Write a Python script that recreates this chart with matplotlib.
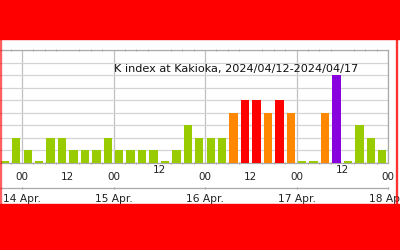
import matplotlib
matplotlib.use("Agg")
import matplotlib.pyplot as plt
import numpy as np
from matplotlib.patches import Rectangle
from matplotlib.transforms import ScaledTranslation

# ---- data ----
# 3-hourly K index, bins starting 2024-04-13 18:00 (x in days from 14 Apr 00:00)
start_day = -0.25
k_values = [0, 2,                      # 13 Apr 18-24
            1, 0, 2, 2, 1, 1, 1, 2,    # 14 Apr
            1, 1, 1, 1, 0, 1, 3, 2,    # 15 Apr
            2, 2, 4, 5, 5, 4, 5, 4,    # 16 Apr
            0, 0, 4, 7, 0, 3, 2, 1]    # 17 Apr
title = "K index at Kakioka, 2024/04/12-2024/04/17"
hour_ticks = [0, 0.5, 1, 1.5, 2, 2.5, 3, 3.5, 4]
hour_labels = ["00", "12", "00", "12", "00", "12", "00", "12", "00"]
day_ticks = [0, 1, 2, 3, 4]
day_labels = ["14 Apr.", "15 Apr.", "16 Apr.", "17 Apr.", "18 Apr."]

def kcolor(k):
    if k >= 7:
        return "#8800dd"
    if k >= 5:
        return "#ff0000"
    if k == 4:
        return "#ff8800"
    return "#99cc00"

W, H = 400, 250
fig = plt.figure(figsize=(4, 2.5), dpi=100)
fig.patch.set_facecolor("white")

px_per_day = 91.5
x_right_px = 388
x_left_day = 4 - x_right_px / px_per_day

ax = fig.add_axes([0, 1 - 163 / H, x_right_px / W, (163 - 50) / H])
bin_w = 0.125
centers = start_day + bin_w * (np.arange(len(k_values)) + 0.5)
heights = np.maximum(np.array(k_values, float), 0.13)
ax.bar(centers, heights, width=0.092, color=[kcolor(k) for k in k_values],
       zorder=3)
ax.set_xlim(x_left_day, 4)
ax.set_ylim(0, 9)
ax.set_yticks(np.arange(0, 10))
ax.yaxis.grid(True, color="#d4d4d4", lw=0.9, zorder=0)
for d in day_ticks:
    ax.axvline(d, color="#c0c0c0", lw=0.9, zorder=1)
ax.tick_params(axis="y", left=False, labelleft=False)
ax.spines["left"].set_visible(False)
for s in ["top", "right", "bottom"]:
    ax.spines[s].set_color("#aaaaaa")
    ax.spines[s].set_linewidth(0.9)
ax.set_xticks(hour_ticks)
ax.set_xticklabels(hour_labels, fontsize=7.5, color="#222222")
ax.set_xticks(np.arange(-0.125, 4.01, 0.125), minor=True)
ax.tick_params(axis="x", which="major", length=0, pad=6.5)
ax.tick_params(axis="x", which="minor", length=2, direction="inout",
               color="#999999", top=True, bottom=True)
for i, lab in enumerate(ax.get_xticklabels()):
    if i in (3, 7):
        lab.set_transform(lab.get_transform() +
                          ScaledTranslation(0, 7 / 100, fig.dpi_scale_trans))
ax.text(1, 7.45, title, fontsize=8.1, color="#111111", va="center",
        ha="left", zorder=4)

# day axis
ax2 = fig.add_axes([0, 1 - 188 / H, x_right_px / W, 0.001])
ax2.set_xlim(x_left_day, 4)
ax2.set_ylim(0, 1)
for s in ["left", "right", "top"]:
    ax2.spines[s].set_visible(False)
ax2.spines["bottom"].set_color("#aaaaaa")
ax2.spines["bottom"].set_linewidth(0.9)
ax2.set_yticks([])
ax2.set_xticks(day_ticks)
ax2.set_xticklabels(day_labels, fontsize=7.7, color="#222222")
ax2.tick_params(axis="x", length=2, direction="inout", color="#999999", pad=3)
ax2.patch.set_visible(False)

# red frame
red = "#ff0000"
fig.patches.append(Rectangle((0, 1 - 39 / H), 1, 39 / H, transform=fig.transFigure,
                             color=red, zorder=10))
fig.patches.append(Rectangle((0, 0), 1, 46 / H, transform=fig.transFigure,
                             color=red, zorder=10))
fig.patches.append(Rectangle((0, 0), 1.2 / W, 1, transform=fig.transFigure,
                             color=red, zorder=10, alpha=0.5))
fig.patches.append(Rectangle((396 / W, 0), 1.2 / W, 1, transform=fig.transFigure,
                             color=red, zorder=10, alpha=0.7))

fig.savefig("out.png", dpi=100)
